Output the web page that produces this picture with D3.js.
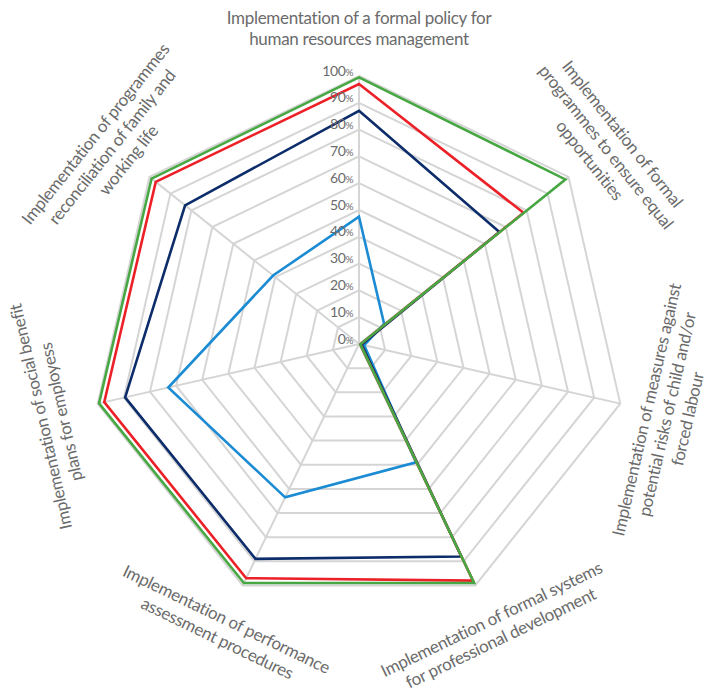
<!DOCTYPE html>
<html>
<head>
<meta charset="utf-8">
<script src="https://cdn.jsdelivr.net/npm/d3@7/dist/d3.min.js"></script>
<style>
  html, body { margin: 0; padding: 0; background: #fff; }
  svg text { font-family: "Lato", "Open Sans", sans-serif; fill: #6b6b6b; }
</style>
</head>
<body>
<svg id="chart" width="720" height="693"></svg>
<script>
// Axis labels (line breaks as drawn), clockwise from the top
const axes = [
  ["Implementation of a formal policy for", "human resources management"],
  ["Implementation of formal", "programmes to ensure equal", "opportunities"],
  ["Implementation of measures against", "potential risks of child and/or", "forced labour"],
  ["Implementation of formal systems", "for professional development"],
  ["Implementation of performance", "assessment procedures"],
  ["Implementation of social benefit", "plans for employess"],
  ["Implementation of programmes", "reconciliation of family and", "working life"]
];

// Series values, percent per axis
const seriesLightBlue = [47.5, 12, 2, 49, 63.5, 73, 41];
const seriesNavy      = [87, 67, 1, 88, 89, 89.5, 83];
const seriesRed       = [97, 78.5, 0.5, 98, 97, 97.5, 97];
const seriesGreen     = [99.5, 98.5, 0.5, 99, 99, 99.5, 99];

const seriesColors = ["#1b8bd3", "#0c2c6a", "#ec2027", "#47a843"];

const tickValues = [0, 10, 20, 30, 40, 50, 60, 70, 80, 90, 100];

const cx = 359, cy = 344, R = 268;
const svg = d3.select("#chart");
const g = svg.append("g").attr("transform", `translate(${cx},${cy})`);

const r = d3.scaleLinear().domain([0, 100]).range([0, R]);
const angle = d3.scaleLinear().domain([0, axes.length]).range([0, 2 * Math.PI]);

const pt = (i, v) => [Math.sin(angle(i)) * r(v), -Math.cos(angle(i)) * r(v)];

// Grid rings
const ringLine = d3.line();
g.selectAll("path.ring")
  .data(tickValues.filter(t => t > 0))
  .join("path")
  .attr("class", "ring")
  .attr("d", t => ringLine(axes.map((_, i) => pt(i, t))) + "Z")
  .attr("fill", "none")
  .attr("stroke", "#d5d5d5")
  .attr("stroke-width", 2);

// Spokes
g.selectAll("line.spoke")
  .data(axes)
  .join("line")
  .attr("class", "spoke")
  .attr("x1", 0).attr("y1", 0)
  .attr("x2", (_, i) => pt(i, 100)[0])
  .attr("y2", (_, i) => pt(i, 100)[1])
  .attr("stroke", "#d5d5d5")
  .attr("stroke-width", 2);

// Series polygons
const series = [seriesLightBlue, seriesNavy, seriesRed, seriesGreen];
g.selectAll("path.series")
  .data(series)
  .join("path")
  .attr("class", "series")
  .attr("d", s => ringLine(s.map((v, i) => pt(i, v))) + "Z")
  .attr("fill", "none")
  .attr("stroke", (_, k) => seriesColors[k])
  .attr("stroke-width", 2.6)
  .attr("stroke-linejoin", "miter");

// Percent tick labels along the top spoke
const tl = g.selectAll("text.tick")
  .data(tickValues)
  .join("text")
  .attr("class", "tick")
  .attr("x", -6)
  .attr("y", t => -r(t) - 0.5)
  .attr("text-anchor", "end")
  .style("font-size", "14px")
  .style("letter-spacing", "-0.4px");
tl.append("tspan").text(t => t);
tl.append("tspan").style("font-size", "10px").text("%");

// Axis labels, rotated to follow the rim
const labelR = 316;
const lineH = 21;
axes.forEach((lines, i) => {
  const a = angle(i) * 180 / Math.PI;
  const [x, y] = pt(i, 100).map(c => c * labelR / R);
  const rot = a <= 90 ? a : (a <= 240 ? a - 180 : a - 360);
  const t = g.append("text")
    .attr("transform", `translate(${x},${y}) rotate(${rot})`)
    .attr("text-anchor", "middle")
    .style("font-size", "17px")
    .style("letter-spacing", "-0.3px");
  const n = lines.length;
  lines.forEach((ln, j) => {
    t.append("tspan")
      .attr("x", 0)
      .attr("y", (j - (n - 1) / 2) * lineH + 6)
      .text(ln);
  });
});
</script>
</body>
</html>
